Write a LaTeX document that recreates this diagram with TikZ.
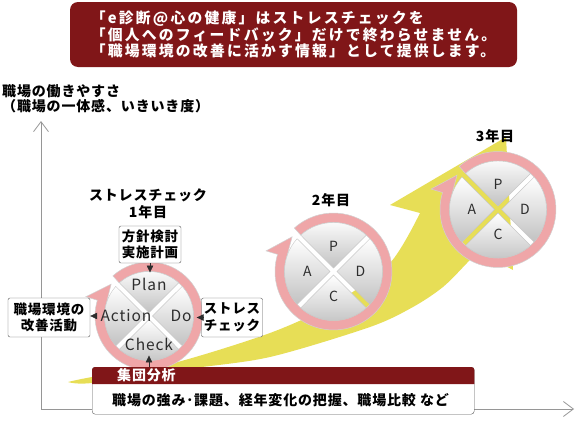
\documentclass[tikz,border=0pt]{standalone}
\usepackage{fontspec}
\setmainfont{Noto Sans CJK JP}[LetterSpace=6]
\usetikzlibrary{arrows.meta}
\usetikzlibrary{positioning}

\definecolor{bannerred}{RGB}{128,22,24}
\definecolor{ringpink}{RGB}{239,166,168}
\definecolor{arrowyellow}{RGB}{231,222,86}
\definecolor{axisgray}{RGB}{150,150,150}
\definecolor{textgray}{RGB}{45,45,45}

\begin{document}
\begin{tikzpicture}[x=1pt, y=1pt,
    axis/.style={draw=axisgray, line width=0.8pt, -{Straight Barb[length=10pt,width=15pt]}},
    ring/.style={fill=ringpink, draw=black!18, line width=0.5pt},
    sector/.style={top color=white, bottom color=black!24, draw=black!22, line width=0.4pt},
    bigletter/.style={text=textgray, font=\fontsize{15.5}{16}\selectfont, inner sep=5pt},
    smallletter/.style={text=textgray, font=\fontsize{14}{15}\selectfont, inner sep=2pt},
    title/.style={text=black, align=center, inner sep=1pt, font=\fontsize{14}{17}\selectfont\bfseries},
    note/.style={draw=black!65, fill=white, rounded corners=2pt, align=center, inner sep=2pt, font=\fontsize{13.5}{16.5}\selectfont\bfseries},
    ptr/.style={-{Triangle[length=7pt,width=6.5pt]}, draw=textgray, line width=0.6pt},
    banner/.style={fill=bannerred, text=white, rounded corners=8pt, minimum width=447, minimum height=65, align=left,
      font={\fontsize{14.8}{16.5}\selectfont\bfseries\addfontfeature{LetterSpace=15}}}]
    \useasboundingbox (0,0) rectangle (576,-423);

    % axes
    \coordinate (origin) at (41,-409);
    \coordinate (ytip) at (41,-121);
    \coordinate (xtip) at (574,-409);
    \draw[axis] (origin) -- (ytip);
    \draw[axis] (origin) -- (xtip);
    \node[anchor=north west, align=left, inner sep=0, font=\fontsize{14}{15.5}\selectfont\bfseries] (ylab) at (2,-84) {職場の働きやすさ\\（職場の一体感、いきいき度）};

    % growth arrow
    \fill[arrowyellow] plot[smooth] coordinates {(68,-382) (92,-377) (170,-364) (270,-333) (335,-303) (390,-263) (420,-213)}
      -- (390,-205) -- (506,-137) -- (513,-270)
      -- plot[smooth] coordinates {(478,-251) (467,-263) (443,-287) (413,-307) (370,-327) (270,-357) (187,-369) (92,-383) (68,-382)}
      -- cycle;

    % PDCA circles
    \foreach \cx/\cy/\ro/\nm in {149/-316/54/one, 333.5/-271.5/58.5/two, 498/-209.5/58/three}{
      \coordinate (c\nm) at (\cx,\cy);
      \pgfmathsetmacro\ri{\ro-9.5}
      \pgfmathsetmacro\rb{\ro+12}
      \pgfmathsetmacro\rt{\ro-4.5}
      \pgfmathsetmacro\gap{asin(2.5/\ri)}
      \path[ring] ([shift={(132:\ro)}]c\nm) arc[start angle=132, end angle=-197, radius=\ro]
        -- ([shift={(163:\rb)}]c\nm) -- ([shift={(140:\rt)}]c\nm)
        -- ([shift={(163:\ri)}]c\nm) arc[start angle=-197, end angle=132, radius=\ri] -- cycle;
      \foreach \a in {90,0,-90,180}
        \path[sector] ([shift={(\a:3.5)}]c\nm) -- ([shift={(\a-45+\gap:\ri)}]c\nm)
          arc[start angle=\a-45+\gap, end angle=\a+45-\gap, radius=\ri] -- cycle;
    }

    \node[bigletter] (plan) at ([yshift=32]cone) {Plan};
    \node[bigletter] (do) at ([xshift=32]cone) {Do};
    \node[bigletter] (check) at ([yshift=-28]cone) {Check};
    \node[bigletter] (action) at ([xshift=-23]cone) {Action};
    \foreach \nm in {two,three}{
      \node[smallletter] (\nm-p) at ([yshift=25]c\nm) {P};
      \node[smallletter] (\nm-d) at ([xshift=27]c\nm) {D};
      \node[smallletter] (\nm-c) at ([yshift=-25]c\nm) {C};
      \node[smallletter] (\nm-a) at ([xshift=-26]c\nm) {A};
    }

    \node[title] (year1) at (148,-203.5) {ストレスチェック\\1年目};
    \node[title] (year2) at (331,-200) {2年目};
    \node[title] (year3) at (495,-136) {3年目};

    % notes around the first cycle
    \node[note, minimum width=62, minimum height=37] (kbox) at (150,-244.5) {方針検討\\実施計画};
    \node[note, minimum width=82, minimum height=39] (ebox) at (49,-317.5) {職場環境の\\改善活動};
    \node[note, minimum width=61, minimum height=39] (sbox) at (232,-317.5) {ストレス\\チェック};

    % group analysis box
    \node[draw=black!65, fill=white, rounded corners=3pt, minimum width=382, minimum height=47, anchor=north west, inner sep=0] (group) at (92,-367) {};
    \fill[bannerred] ([yshift=-17]group.north west) [rounded corners=3pt] -- (group.north west) -- (group.north east) [sharp corners] -- ([yshift=-17]group.north east) -- cycle;
    \node[anchor=west, inner sep=0, text=white, font=\fontsize{14}{15}\selectfont\bfseries] (gtitle) at ([xshift=25,yshift=-8.5]group.north west) {集団分析};
    \node[anchor=west, inner sep=0, font=\fontsize{14}{15}\selectfont\bfseries] (gtext) at ([xshift=20,yshift=-33]group.north west) {職場の強み･課題、経年変化の把握、職場比較 など};

    \draw[ptr] (kbox.south) -- (kbox.south |- plan.north);
    \draw[ptr] (sbox.west) -- (sbox.west -| do.east);
    \draw[ptr] (action.west) -- (action.west -| ebox.east);
    \draw[ptr] (check.south |- group.north) -- (check.south);

    % message banner
    \node[banner] (msg) at (293.5,-34.5) {「e診断@心の健康」はストレスチェックを\\「個人へのフィードバック」だけで終わらせません。\\「職場環境の改善に活かす情報」として提供します。};
\end{tikzpicture}
\end{document}
